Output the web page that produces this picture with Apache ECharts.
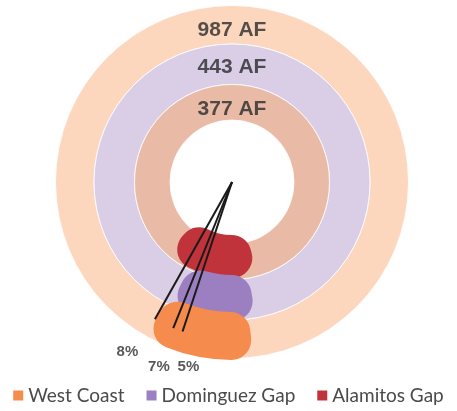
<!DOCTYPE html>
<html>
<head>
<meta charset="utf-8">
<script src="https://cdn.jsdelivr.net/npm/echarts@6/dist/echarts.min.js"></script>
<style>
  html, body { margin: 0; padding: 0; background: #fff; }
  #chart { width: 457px; height: 411px; }
</style>
</head>
<body>
<div id="chart"></div>
<script>
// data
const categories = ['West Coast', 'Dominguez Gap', 'Alamitos Gap']
const totalsAF = [987, 443, 377]
const sharePct = [8, 7, 5]

// layout (outer ring first)
const center = [232, 182]
const ringRadius = [[138, 176.5], [97.5, 138], [62, 97.5]]
const ringColor = ['#FDD6BE', '#DACEE7', '#E9BBA7']
const totalLabelR = [151.5, 114.5, 72.5]
const blobRadius = [[130, 178], [93, 139], [53, 96]]
const blobColor = ['#F58B4C', '#9B7FC0', '#C1333B']
const blobStart = [-83, -80, -74.5] // right edge of each marker, degrees
const blobSpan = [36, 36.5, 58] // drawn angular size of each marker
const pointerAngle = [29.3, 21.9, 18.3] // degrees left of straight down
const pointerLen = 157.5
const tagPos = [[199.5, 31.6], [198.4, 21.6], [189.6, 13.3]]

const chart = echarts.init(document.getElementById('chart'))

const series = []

// background rings
categories.forEach((name, i) => {
  series.push({
    type: 'pie',
    center: center,
    radius: ringRadius[i],
    silent: true,
    z: 1,
    itemStyle: { color: ringColor[i], borderColor: 'rgba(255,255,255,0.8)', borderWidth: 1 },
    label: { show: false },
    labelLine: { show: false },
    data: [{ name: name + ' total', value: totalsAF[i] }]
  })
})

// share markers, innermost drawn first
for (let i = categories.length - 1; i >= 0; i--) {
  series.push({
    type: 'pie',
    center: center,
    radius: blobRadius[i],
    startAngle: blobStart[i],
    clockwise: true,
    silent: true,
    z: 2,
    label: { show: false },
    labelLine: { show: false },
    data: [
      {
        name: categories[i],
        value: sharePct[i],
        itemStyle: { color: blobColor[i], borderRadius: 20 }
      },
      {
        name: '',
        value: sharePct[i] * (360 - blobSpan[i]) / blobSpan[i],
        itemStyle: { color: 'transparent' }
      }
    ]
  })
}

// pointer lines from the centre
sharePct.forEach((p, i) => {
  const a = 180 + pointerAngle[i]
  series.push({
    type: 'line',
    coordinateSystem: 'polar',
    symbol: 'none',
    silent: true,
    z: 5,
    lineStyle: { color: '#1a1a1a', width: 2 },
    data: [[0, a], [pointerLen, a]]
  })
})

// ring totals at the top of each ring
series.push({
  type: 'scatter',
  coordinateSystem: 'polar',
  symbolSize: 0,
  silent: true,
  clip: false,
  z: 6,
  label: {
    show: true,
    position: 'inside',
    formatter: (p) => totalsAF[p.dataIndex] + ' AF',
    fontFamily: 'Liberation Sans, Arial, sans-serif',
    fontWeight: 'bold',
    fontSize: 21,
    color: '#2a2a2a'
  },
  data: totalLabelR.map(r => [r, 0])
})

// percentage tags
series.push({
  type: 'scatter',
  coordinateSystem: 'polar',
  symbolSize: 0,
  silent: true,
  clip: false,
  z: 6,
  label: {
    show: true,
    position: 'inside',
    formatter: (p) => sharePct[p.dataIndex] + '%',
    fontFamily: 'Liberation Sans, Arial, sans-serif',
    fontWeight: 'bold',
    fontSize: 15,
    color: '#2e2e2e'
  },
  data: tagPos.map(t => [t[0], 180 + t[1]])
})

chart.setOption({
  animation: false,
  polar: { center: center, radius: 220 },
  angleAxis: { type: 'value', min: 0, max: 360, startAngle: 90, clockwise: true, show: false },
  radiusAxis: { type: 'value', min: 0, max: 220, show: false },
  legend: {
    data: categories,
    left: 'center',
    top: 381,
    icon: 'rect',
    itemWidth: 10,
    itemHeight: 10,
    itemGap: 22,
    selectedMode: false,
    textStyle: { fontFamily: 'Lato, sans-serif', fontSize: 19, color: '#4a4a4a' }
  },
  series: series
})
</script>
</body>
</html>
